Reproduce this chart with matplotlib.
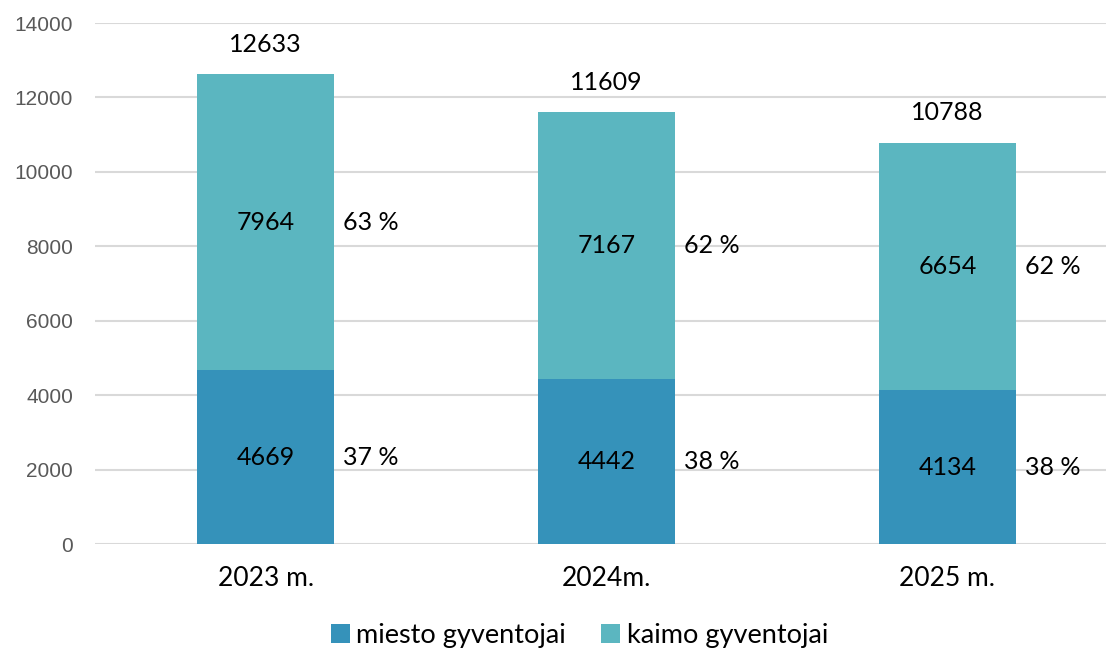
import matplotlib.pyplot as plt
import numpy as np

# chart data
years = ["2023 m.", "2024m.", "2025 m."]
miesto = [4669, 4442, 4134]
kaimo = [7964, 7167, 6654]
totals = [12633, 11609, 10788]
miesto_pct = ["37 %", "38 %", "38 %"]
kaimo_pct = ["63 %", "62 %", "62 %"]

dark_blue = "#3592BA"
light_teal = "#5BB6C0"
label_font = "Lato"

fig = plt.figure(figsize=(11.06, 6.52), dpi=100)
ax = fig.add_axes([0.086, 0.1656, 0.914, 0.7991])

x = np.arange(len(years))
width = 0.4
ax.bar(x, miesto, width, color=dark_blue, label="miesto gyventojai", zorder=2)
ax.bar(x, kaimo, width, bottom=miesto, color=light_teal, label="kaimo gyventojai", zorder=2)

# value labels inside segments, shares to the right, totals on top
for i in range(len(years)):
    ax.text(x[i], miesto[i] / 2, str(miesto[i]), ha="center", va="center",
            fontsize=18, family=label_font, color="black")
    ax.text(x[i], miesto[i] + kaimo[i] / 2, str(kaimo[i]), ha="center", va="center",
            fontsize=18, family=label_font, color="black")
    ax.text(x[i] + width / 2 + 0.026, miesto[i] / 2, miesto_pct[i], ha="left", va="center",
            fontsize=18, family=label_font, color="black")
    ax.text(x[i] + width / 2 + 0.026, miesto[i] + kaimo[i] / 2, kaimo_pct[i], ha="left", va="center",
            fontsize=18, family=label_font, color="black")
    ax.annotate(str(totals[i]), (x[i], totals[i]), xytext=(0, 16), textcoords="offset points",
                ha="center", va="baseline", fontsize=18, family=label_font, color="black")

ax.set_xlim(-0.5, 2.465)
ax.set_ylim(0, 14000)
ax.set_yticks(np.arange(0, 14001, 2000))
ax.set_xticks(x)
ax.set_xticklabels(years, fontsize=19, family=label_font)
ax.tick_params(axis="x", length=0, pad=16)
ax.tick_params(axis="y", length=0, pad=16, labelsize=15, labelcolor="#595959")
for lab in ax.get_yticklabels():
    lab.set_family("Liberation Sans")

ax.grid(axis="y", color="#d9d9d9", linewidth=1.5, zorder=0)
for s in ax.spines.values():
    s.set_visible(False)

fig.legend(loc="center", bbox_to_anchor=(0.524, 0.025), ncol=2, frameon=False,
           prop={"family": label_font, "size": 19.5}, handlelength=0.7, handleheight=0.7,
           handletextpad=0.25, columnspacing=1.3)

fig.savefig("out.png", dpi=100)
